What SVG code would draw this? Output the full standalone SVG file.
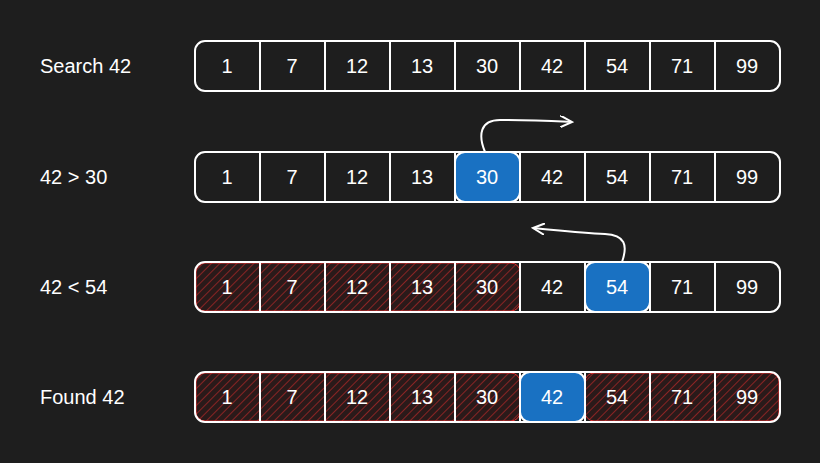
<svg xmlns="http://www.w3.org/2000/svg" width="820" height="463" viewBox="0 0 820 463">
<style>
.t{font-family:"Liberation Sans",Arial,sans-serif;font-size:20px;fill:#fff;dominant-baseline:central}
.c{text-anchor:middle}
.frame{fill:none;stroke:#fff;stroke-width:2}
.sep{stroke:#fff;stroke-width:2}
.blue{fill:#1971c2;stroke:#fff;stroke-width:2}
.hatch{fill:url(#h);stroke:#e03131;stroke-width:1}
.conn{fill:none;stroke:#fff;stroke-width:2;marker-end:url(#a)}
</style>
<defs>
<pattern id="h" width="6" height="6" patternUnits="userSpaceOnUse" patternTransform="rotate(45)">
<rect width="6" height="6" fill="#2a1a1a"/>
<line x1="0" y1="0" x2="0" y2="6" stroke="#c92a2a" stroke-width="1.2"/>
</pattern>
<marker id="a" markerWidth="14" markerHeight="12" refX="12" refY="6" orient="auto" markerUnits="userSpaceOnUse">
<path d="M0,0 L12,6 L0,12" fill="none" stroke="#fff" stroke-width="2"/>
</marker>
<g id="seps">
<line class="sep" x1="260" y1="0" x2="260" y2="50"/><line class="sep" x1="325" y1="0" x2="325" y2="50"/>
<line class="sep" x1="390" y1="0" x2="390" y2="50"/><line class="sep" x1="455" y1="0" x2="455" y2="50"/>
<line class="sep" x1="520" y1="0" x2="520" y2="50"/><line class="sep" x1="585" y1="0" x2="585" y2="50"/>
<line class="sep" x1="650" y1="0" x2="650" y2="50"/><line class="sep" x1="715" y1="0" x2="715" y2="50"/>
</g>
<g id="nums">
<text class="t c" x="227" y="25">1</text><text class="t c" x="292" y="25">7</text>
<text class="t c" x="357" y="25">12</text><text class="t c" x="422" y="25">13</text>
<text class="t c" x="487" y="25">30</text><text class="t c" x="552" y="25">42</text>
<text class="t c" x="617" y="25">54</text><text class="t c" x="682" y="25">71</text>
<text class="t c" x="747" y="25">99</text>
</g>
</defs>
<rect width="820" height="463" fill="#1e1e1e"/>
<g id="row1" transform="translate(0,41)">
<text class="t" x="40" y="25">Search 42</text>
<rect class="frame" x="195" y="0" width="585" height="50" rx="10"/>
<use href="#seps"/><use href="#nums"/>
</g>
<g id="row2" transform="translate(0,152)">
<text class="t" x="40" y="25">42 &gt; 30</text>
<rect class="frame" x="195" y="0" width="585" height="50" rx="10"/>
<use href="#seps"/>
<rect class="blue" x="455" y="0" width="65" height="50" rx="10"/>
<use href="#nums"/>
</g>
<g id="row3" transform="translate(0,262)">
<text class="t" x="40" y="25">42 &lt; 54</text>
<rect class="hatch" x="196" y="1" width="324" height="48" rx="9"/>
<rect class="frame" x="195" y="0" width="585" height="50" rx="10"/>
<use href="#seps"/>
<rect class="blue" x="585" y="0" width="65" height="50" rx="10"/>
<use href="#nums"/>
</g>
<g id="row4" transform="translate(0,372)">
<text class="t" x="40" y="25">Found 42</text>
<rect class="hatch" x="196" y="1" width="324" height="48" rx="9"/>
<rect class="hatch" x="585" y="1" width="194" height="48" rx="9"/>
<rect class="frame" x="195" y="0" width="585" height="50" rx="10"/>
<use href="#seps"/>
<rect class="blue" x="520" y="0" width="65" height="50" rx="10"/>
<use href="#nums"/>
</g>
<g id="connectors">
<path class="conn" d="M485,152 C478,135 480,120 500,120 C530,120 550,121 572,122"/>
<path class="conn" d="M622,262 C628,245 625,235 605,234 C580,233 555,230 533,228"/>
</g>
</svg>
